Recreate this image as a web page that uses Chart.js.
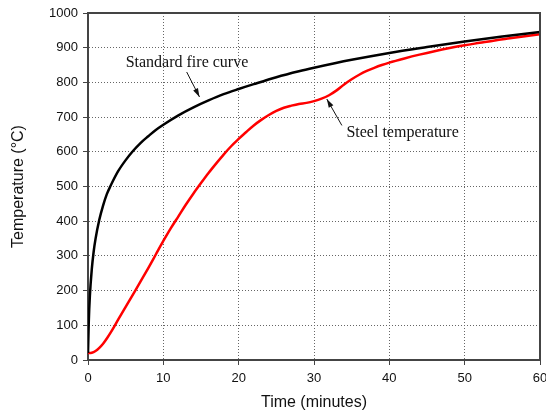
<!DOCTYPE html>
<html>
<head>
<meta charset="utf-8">
<script src="https://cdn.jsdelivr.net/npm/chart.js@4/dist/chart.umd.min.js"></script>
<style>
    html, body { margin: 0; padding: 0; background: #fff; overflow: hidden; }
    #wrap { width: 556px; height: 416px; }
</style>
</head>
<body>
<div id="wrap"><canvas id="chart-fire"></canvas></div>
<script>
// Time (minutes) and temperatures (°C)
const fireTimes = [0, 0.1, 0.25, 0.5, 0.75, 1, 1.5, 2, 2.5, 3, 4, 5, 6, 7, 8, 9, 10, 12, 14, 16, 18, 20, 22, 25, 28, 30, 35, 40, 45, 50, 55, 60];
const fireTemps = [20, 108, 185, 261, 312, 349, 404, 445, 478, 502, 544, 576, 603, 626, 645, 663, 678, 705, 728, 748, 766, 781, 795, 815, 832, 842, 865, 885, 902, 918, 932, 945];

const steelTimes = [0, 0.5, 1, 1.5, 2, 2.5, 3, 3.5, 4, 5, 6, 7, 8, 9, 10, 11, 12, 13, 14, 15, 16, 17, 18, 19, 20, 21, 22, 23, 24, 25, 26, 27, 28, 29, 30, 31, 32, 33, 34, 35, 36, 37, 38, 39, 40, 42, 44, 46, 48, 50, 52, 54, 56, 58, 60];
const steelTemps = [20, 21, 26, 35, 47, 62, 79, 97, 116, 153, 190, 227, 265, 304, 343, 380, 414, 448, 480, 510, 539, 566, 592, 616, 637, 657, 676, 692, 706, 718, 727, 733, 738, 741, 746, 753, 763, 777, 794, 809, 822, 833, 842, 850, 857, 869, 880, 890, 899, 907, 914, 921, 927, 933, 939];

const xTicks = [0, 10, 20, 30, 40, 50, 60];
const yTicks = [0, 100, 200, 300, 400, 500, 600, 700, 800, 900, 1000];

// Labels with arrows: [text, text x, text y, arrow from x,y, arrow to x,y] in data units
const notes = [
    ["Standard fire curve", 5.0, 857, 13.1, 830, 14.8, 758],
    ["Steel temperature", 34.3, 654, 33.7, 676, 31.7, 752],
];

const toPoints = (xs, ys) => xs.map((x, i) => ({ x: x, y: ys[i] }));

// Plugin frame (top + right border)
const framePlugin = {
    id: "frame",
    afterDatasetsDraw(chart) {
        const { ctx, chartArea: a } = chart;
        ctx.save();
        ctx.strokeStyle = "#444";
        ctx.lineWidth = 2;
        ctx.beginPath();
        ctx.moveTo(a.left, a.top);
        ctx.lineTo(a.right, a.top);
        ctx.lineTo(a.right, a.bottom);
        ctx.stroke();
        ctx.restore();
    },
};

// Plugin notes (text + arrow)
const notesPlugin = {
    id: "notes",
    afterDatasetsDraw(chart) {
        const ctx = chart.ctx;
        const sx = chart.scales.x;
        const sy = chart.scales.y;
        ctx.save();
        notes.forEach((n) => {
            ctx.font = "16px 'Liberation Serif', 'Times New Roman', serif";
            ctx.fillStyle = "#111";
            ctx.textAlign = "left";
            ctx.textBaseline = "middle";
            ctx.fillText(n[0], sx.getPixelForValue(n[1]), sy.getPixelForValue(n[2]));

            const x1 = sx.getPixelForValue(n[3]);
            const y1 = sy.getPixelForValue(n[4]);
            const x2 = sx.getPixelForValue(n[5]);
            const y2 = sy.getPixelForValue(n[6]);
            const ang = Math.atan2(y2 - y1, x2 - x1);
            ctx.strokeStyle = "#111";
            ctx.lineWidth = 1;
            ctx.beginPath();
            ctx.moveTo(x1, y1);
            ctx.lineTo(x2, y2);
            ctx.stroke();
            ctx.beginPath();
            ctx.moveTo(x2, y2);
            ctx.lineTo(x2 - 9 * Math.cos(ang - 0.3), y2 - 9 * Math.sin(ang - 0.3));
            ctx.lineTo(x2 - 9 * Math.cos(ang + 0.3), y2 - 9 * Math.sin(ang + 0.3));
            ctx.closePath();
            ctx.fillStyle = "#111";
            ctx.fill();
        });
        ctx.restore();
    },
};

new Chart(document.getElementById("chart-fire"), {
    type: "line",
    data: {
        datasets: [
            {
                label: "Standard fire curve",
                data: toPoints(fireTimes, fireTemps),
                borderColor: "#000",
                borderWidth: 2.5,
                pointRadius: 0,
                cubicInterpolationMode: "monotone",
            },
            {
                label: "Steel temperature",
                data: toPoints(steelTimes, steelTemps),
                borderColor: "#ff0000",
                borderWidth: 2.5,
                pointRadius: 0,
                cubicInterpolationMode: "monotone",
            },
        ],
    },
    options: {
        responsive: true,
        maintainAspectRatio: false,
        animation: false,
        layout: { padding: { top: 13, right: 16, left: 0, bottom: 0 } },
        plugins: {
            legend: { display: false },
            tooltip: { enabled: false },
        },
        scales: {
            x: {
                type: "linear",
                min: 0,
                max: 60,
                afterBuildTicks: (s) => { s.ticks = xTicks.map((v) => ({ value: v })); },
                afterFit: (s) => { s.height = 56; },
                ticks: {
                    color: "#111",
                    padding: 6,
                    maxRotation: 0,
                    callback: (v) => String(v),
                    font: { family: "'Liberation Sans', Arial, sans-serif", size: 13 },
                },
                grid: { color: "#666", tickColor: "#444", tickLength: 5, lineWidth: 1 },
                border: { color: "#444", width: 2, dash: [1, 2] },
                title: {
                    display: true,
                    text: "Time (minutes)",
                    color: "#111",
                    padding: { top: 0, bottom: 4 },
                    font: { family: "'Liberation Sans', Arial, sans-serif", size: 16 },
                },
            },
            y: {
                min: 0,
                max: 1000,
                afterBuildTicks: (s) => { s.ticks = yTicks.map((v) => ({ value: v })); },
                afterFit: (s) => { s.width = 88; },
                ticks: {
                    color: "#111",
                    padding: 5,
                    callback: (v) => String(v),
                    font: { family: "'Liberation Sans', Arial, sans-serif", size: 13 },
                },
                grid: { color: "#666", tickColor: "#444", tickLength: 5, lineWidth: 1 },
                border: { color: "#444", width: 2, dash: [1, 2] },
                title: {
                    display: true,
                    text: "Temperature (°C)",
                    color: "#111",
                    padding: { top: 9, bottom: 0 },
                    font: { family: "'Liberation Sans', Arial, sans-serif", size: 16 },
                },
            },
        },
    },
    plugins: [framePlugin, notesPlugin],
});
</script>
</body>
</html>
